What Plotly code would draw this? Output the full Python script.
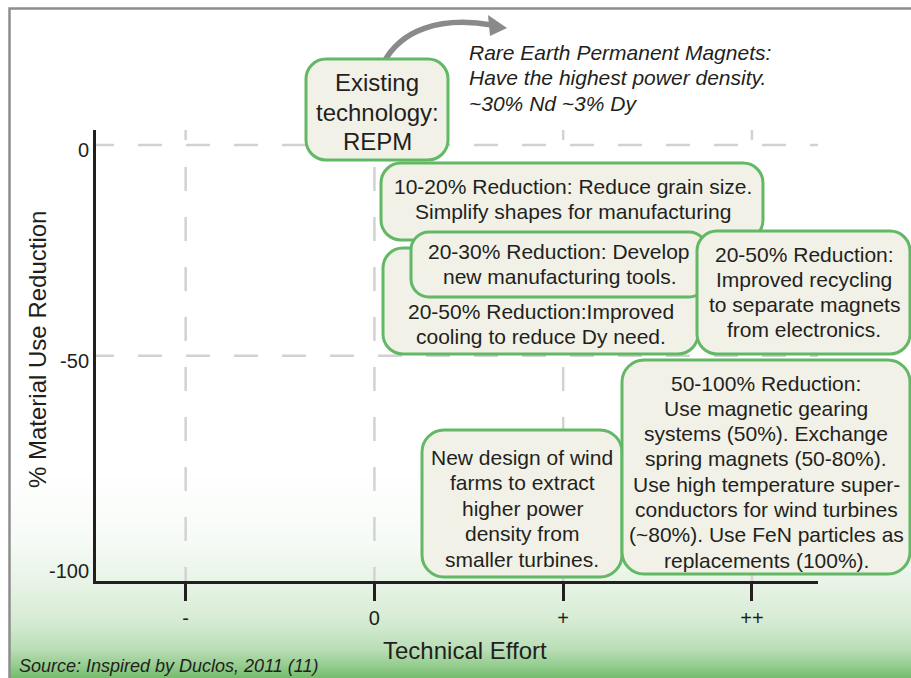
import plotly.graph_objects as go

# ---------------- data ----------------
EFFORT_LEVELS = [-1, 0, 1, 2]
EFFORT_LABELS = ["-", "0", "+", "++"]
REDUCTION_TICKS = [0, -50, -100]
REDUCTION_LABELS = ["0", "-50", "-100"]
GRID_REDUCTION = [0, -50]

X_TITLE = "Technical Effort"
Y_TITLE = "% Material Use Reduction"
SOURCE_TEXT = "Source: Inspired by Duclos, 2011 (11)"

NOTE_LINES = [
    "Rare Earth Permanent Magnets:",
    "Have the highest power density.",
    "~30% Nd ~3% Dy",
]
EXISTING_LINES = ["Existing", "technology:", "REPM"]

STRATEGY_TEXTS = [
    ["10-20% Reduction: Reduce grain size.", "Simplify shapes for manufacturing"],
    ["20-50% Reduction:Improved", "cooling to reduce Dy need."],
    ["20-30% Reduction: Develop", "new manufacturing tools."],
    ["20-50% Reduction:", "Improved recycling", "to separate magnets", "from electronics."],
    ["New design of wind", "farms to extract", "higher power", "density from", "smaller turbines."],
    ["50-100% Reduction:", "Use magnetic gearing", "systems (50%). Exchange",
     "spring magnets (50-80%).", "Use high temperature super-",
     "conductors for wind turbines", "(~80%). Use FeN particles as",
     "replacements (100%)."],
]

# ---------------- layout geometry (pixels) ----------------
FIG_W, FIG_H = 911, 678
ML, MR, MT, MB = 96, 93, 130, 97
PW = FIG_W - ML - MR
PH = FIG_H - MT - MB

X_RANGE = [-1.475, 2.350]
Y_RANGE = [-103.46, 3.56]


def fx(p):
    return (p - ML) / PW


def fy(p):
    return (FIG_H - MB - p) / PH


# box: (x0, y0, x1, y1, radius, text centre x, first line y, line pitch, font size)
EXISTING_BOX = (306, 59, 448, 160, 20, 377, 83, 29, 24)
STRATEGY_BOXES = [
    (381, 163, 763, 240, 20, 573, 186, 25.3, 21),
    (383, 248, 698, 354, 20, 541, 311, 25.3, 21),
    (411, 232, 707, 297, 18, 559, 251, 25.5, 21),
    (697, 231, 910, 354, 20, 804, 254, 25.3, 21),
    (422, 430, 622, 577, 22, 522, 457, 25.5, 21),
    (622, 360, 910, 574, 22, 766, 383, 25.3, 21),
]

TXT = "#231f20"
GREEN = "#62b865"
FILL = "#f1f1e7"
FONT = "Liberation Sans, Arial, Helvetica, sans-serif"


def rrect_path(x0, y0, x1, y1, r):
    k = 0.5523 * r
    pts = [
        ("M", [(x0 + r, y0)]),
        ("L", [(x1 - r, y0)]),
        ("C", [(x1 - r + k, y0), (x1, y0 + r - k), (x1, y0 + r)]),
        ("L", [(x1, y1 - r)]),
        ("C", [(x1, y1 - r + k), (x1 - r + k, y1), (x1 - r, y1)]),
        ("L", [(x0 + r, y1)]),
        ("C", [(x0 + r - k, y1), (x0, y1 - r + k), (x0, y1 - r)]),
        ("L", [(x0, y0 + r)]),
        ("C", [(x0, y0 + r - k), (x0 + r - k, y0), (x0 + r, y0)]),
    ]
    s = ""
    for cmd, ps in pts:
        s += cmd + " " + " ".join(f"{fx(a):.5f},{fy(b):.5f}" for a, b in ps) + " "
    return s + "Z"


shapes = []
annotations = []

# background gradient (inside frame)
GRAD_STOPS = [(470, 0.0), (540, 0.06), (583, 0.17), (620, 0.29), (650, 0.5), (668, 0.8), (678, 1.0)]
END_RGB = (116, 189, 108)


def grad_t(y):
    for (ya, ta), (yb, tb) in zip(GRAD_STOPS[:-1], GRAD_STOPS[1:]):
        if ya <= y <= yb:
            return ta + (tb - ta) * (y - ya) / (yb - ya)
    return 1.0


step = 2
y = 470
while y < 680:
    t = grad_t(y + step / 2)
    col = tuple(round(255 + (e - 255) * t) for e in END_RGB)
    shapes.append(dict(type="rect", xref="paper", yref="paper", layer="below",
                       x0=fx(9), x1=fx(930), y0=fy(y - 0.5), y1=fy(y + step + 0.5),
                       line=dict(width=0), fillcolor=f"rgb{col}"))
    y += step

# dashed grid lines
GRID_COL = "#d2d2d2"
hdash = "18px,24px," + ",".join(["24px,24px"] * 16)
vdash = "10px,27px," + ",".join(["24px,26px"] * 10)
for v in GRID_REDUCTION:
    shapes.append(dict(type="line", xref="paper", yref="y", x0=0, x1=1, y0=v, y1=v,
                       layer="below", line=dict(color=GRID_COL, width=2.5, dash=hdash)))
for v in EFFORT_LEVELS:
    shapes.append(dict(type="line", xref="x", yref="paper", x0=v, x1=v, y0=1, y1=0,
                       layer="below", line=dict(color=GRID_COL, width=2.5, dash=vdash)))

# curved arrow
ARROW_COL = "#8a8a8c"
arrow_pts = [(383, 64), (400, 30), (440, 16), (492, 25)]
p = arrow_pts
arrow_path = (f"M {fx(p[0][0])},{fy(p[0][1])} C {fx(p[1][0])},{fy(p[1][1])} "
              f"{fx(p[2][0])},{fy(p[2][1])} {fx(p[3][0])},{fy(p[3][1])}")
shapes.append(dict(type="path", xref="paper", yref="paper", path=arrow_path,
                   line=dict(color=ARROW_COL, width=5.5), layer="above"))
head = [(488, 15), (507, 28), (490, 36)]
head_path = "M " + " L ".join(f"{fx(a)},{fy(b)}" for a, b in head) + " Z"
shapes.append(dict(type="path", xref="paper", yref="paper", path=head_path,
                   fillcolor=ARROW_COL, line=dict(width=0), layer="above"))


def add_box(geom, lines):
    x0, y0, x1, y1, r, cx, ly, pitch, fs = geom
    shapes.append(dict(type="path", xref="paper", yref="paper", layer="above",
                       path=rrect_path(x0, y0, x1, y1, r),
                       fillcolor=FILL, line=dict(color=GREEN, width=3)))
    for i, line in enumerate(lines):
        annotations.append(dict(xref="paper", yref="paper", x=fx(cx), y=fy(ly + i * pitch),
                                xanchor="center", yanchor="middle", showarrow=False,
                                text=line, font=dict(size=fs, color=TXT, family=FONT)))


add_box(EXISTING_BOX, EXISTING_LINES)
for g, lines in zip(STRATEGY_BOXES, STRATEGY_TEXTS):
    add_box(g, lines)

# italic note
for i, line in enumerate(NOTE_LINES):
    annotations.append(dict(xref="paper", yref="paper", x=fx(467), y=fy(52 + i * 25.5),
                            xanchor="left", yanchor="middle", showarrow=False,
                            text=f"<i>{line}</i>", font=dict(size=21, color=TXT, family=FONT)))

# axis titles & source
annotations.append(dict(xref="paper", yref="paper", x=fx(465), y=fy(650), xanchor="center",
                        yanchor="middle", showarrow=False, text=X_TITLE,
                        font=dict(size=24, color=TXT, family=FONT)))
annotations.append(dict(xref="paper", yref="paper", x=fx(37), y=fy(350), xanchor="center",
                        yanchor="middle", showarrow=False, text=Y_TITLE, textangle=-90,
                        font=dict(size=24, color=TXT, family=FONT)))
annotations.append(dict(xref="paper", yref="paper", x=fx(17), y=fy(666), xanchor="left",
                        yanchor="middle", showarrow=False, text=f"<i>{SOURCE_TEXT}</i>",
                        font=dict(size=18, color=TXT, family=FONT)))

# frame (right and bottom sides fall outside the canvas)
shapes.append(dict(type="rect", xref="paper", yref="paper", layer="above",
                   x0=fx(9.5), x1=fx(980), y0=fy(8.5), y1=fy(740),
                   line=dict(color="#8d8d8d", width=2.5), fillcolor="rgba(0,0,0,0)"))

fig = go.Figure()
fig.update_layout(
    width=FIG_W, height=FIG_H,
    margin=dict(l=ML, r=MR, t=MT, b=MB),
    paper_bgcolor="white", plot_bgcolor="rgba(0,0,0,0)",
    showlegend=False,
    font=dict(family=FONT, color=TXT),
    xaxis=dict(range=X_RANGE, tickmode="array", tickvals=EFFORT_LEVELS, ticktext=EFFORT_LABELS,
               ticks="outside", ticklen=17, tickwidth=3, tickcolor=TXT,
               showline=True, linewidth=3, linecolor=TXT, showgrid=False, zeroline=False,
               tickfont=dict(size=20, color=TXT, family=FONT), fixedrange=True),
    yaxis=dict(range=Y_RANGE, tickmode="array", tickvals=REDUCTION_TICKS, ticktext=REDUCTION_LABELS,
               ticks="", showline=True, linewidth=3, linecolor=TXT, showgrid=False, zeroline=False,
               tickfont=dict(size=20, color=TXT, family=FONT), ticklabelshift=5, fixedrange=True),
    shapes=shapes,
    annotations=annotations,
)
fig.write_html("out.html", config={"displayModeBar": False},
               post_script="document.body.style.margin='0';document.body.style.overflow='hidden';")
